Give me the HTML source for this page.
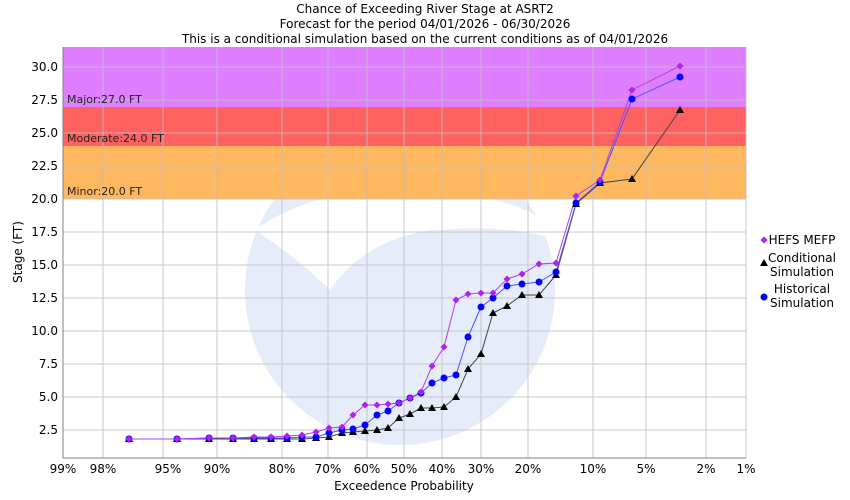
<!DOCTYPE html>
<html><head><meta charset="utf-8"><style>body{margin:0;background:#fff}svg{display:block;font-family:"DejaVu Sans","Liberation Sans",sans-serif}</style></head><body>
<svg width="850" height="500" viewBox="0 0 850 500" xmlns="http://www.w3.org/2000/svg">
<defs><clipPath id="c"><rect x="63" y="47" width="683" height="411"/></clipPath>
<path id="d" d="M0,-3.5l3.5,3.5-3.5,3.5-3.5-3.5z" fill="#b020f0"/>
<path id="t" d="M0,-4l4,7h-8z" fill="#000"/>
<circle id="o" r="3.5" fill="#0000ff"/>
</defs>
<g font-size="12" text-anchor="middle" fill="#000">
<text x="425" y="13">Chance of Exceeding River Stage at ASRT2</text>
<text x="425" y="28">Forecast for the period 04/01/2026 - 06/30/2026</text>
<text x="425" y="43">This is a conditional simulation based on the current conditions as of 04/01/2026</text>
</g>
<g clip-path="url(#c)">
<circle cx="400" cy="290" r="155" fill="#e6ecfa"/>
<path d="M255,230 Q330,175 470,195 Q540,205 560,240 Q500,222 420,232 Q360,245 330,290 Q300,260 255,230Z" fill="#fff"/>
<rect x="63" y="47" width="683" height="60" fill="#df7fff"/>
<rect x="63" y="107" width="683" height="39" fill="#ff6060"/>
<rect x="63" y="146" width="683" height="53" fill="#ffb860"/>
</g>
<g stroke="#c0c0c0" stroke-width="1" opacity="0.85">
<path d="M103,47V458M163,47V458M217,47V458M282,47V458M328,47V458M367,47V458M404,47V458M442,47V458M481,47V458M528,47V458M593,47V458M646,47V458M706,47V458M746,47V458"/>
<path d="M63,67H746M63,100H746M63,133H746M63,166H746M63,199H746M63,232H746M63,265H746M63,298H746M63,331H746M63,364H746M63,397H746M63,430H746"/>
</g>
<path d="M63,47V458H746" fill="none" stroke="#808080"/>
<g font-size="11" fill="#222">
<text x="67" y="103">Major:27.0 FT</text>
<text x="67" y="142">Moderate:24.0 FT</text>
<text x="67" y="195">Minor:20.0 FT</text>
</g>
<g font-size="12" text-anchor="end" fill="#000">
<text x="58" y="71">30.0</text><text x="58" y="104">27.5</text><text x="58" y="137">25.0</text><text x="58" y="170">22.5</text><text x="58" y="203">20.0</text><text x="58" y="236">17.5</text><text x="58" y="269">15.0</text><text x="58" y="302">12.5</text><text x="58" y="335">10.0</text><text x="58" y="368">7.5</text><text x="58" y="401">5.0</text><text x="58" y="434">2.5</text>
</g>
<g font-size="12" text-anchor="middle" fill="#000">
<text x="63" y="473">99%</text><text x="103" y="473">98%</text><text x="168" y="473">95%</text><text x="217" y="473">90%</text><text x="282" y="473">80%</text><text x="328" y="473">70%</text><text x="367" y="473">60%</text><text x="404" y="473">50%</text><text x="442" y="473">40%</text><text x="481" y="473">30%</text><text x="528" y="473">20%</text><text x="593" y="473">10%</text><text x="646" y="473">5%</text><text x="706" y="473">2%</text><text x="746" y="473">1%</text>
<text x="404" y="490">Exceedence Probability</text>
<text transform="translate(22,252) rotate(-90)">Stage (FT)</text>
</g>
<polyline fill="none" stroke="#444" points="129,439 177,439 209,439 233,439 254,439 271,439 287,439 302,439 316,438 329,437 342,433 353,432 365,431 377,430 388,428 399,418 410,414 421,408 432,408 444,407 456,397 468,369 481,354 493,313 507,306 522,295 539,295 556,275 576,204 600,183 632,179 680,110"/>
<polyline fill="none" stroke="#5050ff" points="129,439 177,439 209,438 233,438 254,438 271,438 287,438 302,437 316,437 329,433 342,430 353,429 365,425 377,415 388,411 399,403 410,398 421,393 432,383 444,378 456,375 468,337 481,307 493,298 507,286 522,284 539,282 556,272 576,203 600,182 632,99 680,77"/>
<polyline fill="none" stroke="#b040f0" points="129,439 177,439 209,438 233,438 254,437 271,437 287,436 302,435 316,432 329,428 342,427 353,415 365,405 377,405 388,404 399,403 410,398 421,392 432,366 444,347 456,300 468,294 481,293 493,293 507,279 522,274 539,264 556,263 576,196 600,180 632,90 680,66"/>
<g>
<use href="#t" x="129" y="439"/><use href="#t" x="177" y="439"/><use href="#t" x="209" y="439"/><use href="#t" x="233" y="439"/><use href="#t" x="254" y="439"/><use href="#t" x="271" y="439"/><use href="#t" x="287" y="439"/><use href="#t" x="302" y="439"/><use href="#t" x="316" y="438"/><use href="#t" x="329" y="437"/><use href="#t" x="342" y="433"/><use href="#t" x="353" y="432"/><use href="#t" x="365" y="431"/><use href="#t" x="377" y="430"/><use href="#t" x="388" y="428"/><use href="#t" x="399" y="418"/><use href="#t" x="410" y="414"/><use href="#t" x="421" y="408"/><use href="#t" x="432" y="408"/><use href="#t" x="444" y="407"/><use href="#t" x="456" y="397"/><use href="#t" x="468" y="369"/><use href="#t" x="481" y="354"/><use href="#t" x="493" y="313"/><use href="#t" x="507" y="306"/><use href="#t" x="522" y="295"/><use href="#t" x="539" y="295"/><use href="#t" x="556" y="275"/><use href="#t" x="576" y="204"/><use href="#t" x="600" y="183"/><use href="#t" x="632" y="179"/><use href="#t" x="680" y="110"/>
</g>
<g>
<use href="#o" x="129" y="439"/><use href="#o" x="177" y="439"/><use href="#o" x="209" y="438"/><use href="#o" x="233" y="438"/><use href="#o" x="254" y="438"/><use href="#o" x="271" y="438"/><use href="#o" x="287" y="438"/><use href="#o" x="302" y="437"/><use href="#o" x="316" y="437"/><use href="#o" x="329" y="433"/><use href="#o" x="342" y="430"/><use href="#o" x="353" y="429"/><use href="#o" x="365" y="425"/><use href="#o" x="377" y="415"/><use href="#o" x="388" y="411"/><use href="#o" x="399" y="403"/><use href="#o" x="410" y="398"/><use href="#o" x="421" y="393"/><use href="#o" x="432" y="383"/><use href="#o" x="444" y="378"/><use href="#o" x="456" y="375"/><use href="#o" x="468" y="337"/><use href="#o" x="481" y="307"/><use href="#o" x="493" y="298"/><use href="#o" x="507" y="286"/><use href="#o" x="522" y="284"/><use href="#o" x="539" y="282"/><use href="#o" x="556" y="272"/><use href="#o" x="576" y="203"/><use href="#o" x="600" y="182"/><use href="#o" x="632" y="99"/><use href="#o" x="680" y="77"/>
</g>
<g>
<use href="#d" x="129" y="439"/><use href="#d" x="177" y="439"/><use href="#d" x="209" y="438"/><use href="#d" x="233" y="438"/><use href="#d" x="254" y="437"/><use href="#d" x="271" y="437"/><use href="#d" x="287" y="436"/><use href="#d" x="302" y="435"/><use href="#d" x="316" y="432"/><use href="#d" x="329" y="428"/><use href="#d" x="342" y="427"/><use href="#d" x="353" y="415"/><use href="#d" x="365" y="405"/><use href="#d" x="377" y="405"/><use href="#d" x="388" y="404"/><use href="#d" x="399" y="403"/><use href="#d" x="410" y="398"/><use href="#d" x="421" y="392"/><use href="#d" x="432" y="366"/><use href="#d" x="444" y="347"/><use href="#d" x="456" y="300"/><use href="#d" x="468" y="294"/><use href="#d" x="481" y="293"/><use href="#d" x="493" y="293"/><use href="#d" x="507" y="279"/><use href="#d" x="522" y="274"/><use href="#d" x="539" y="264"/><use href="#d" x="556" y="263"/><use href="#d" x="576" y="196"/><use href="#d" x="600" y="180"/><use href="#d" x="632" y="90"/><use href="#d" x="680" y="66"/>
</g>
<g font-size="12" fill="#000" text-anchor="middle">
<use href="#d" x="764" y="240"/><text x="802" y="244">HEFS MEFP</text>
<use href="#t" x="764" y="263"/><text x="802" y="262">Conditional</text><text x="802" y="276">Simulation</text>
<use href="#o" x="764" y="297"/><text x="802" y="293">Historical</text><text x="802" y="307">Simulation</text>
</g>
</svg>
</body></html>
